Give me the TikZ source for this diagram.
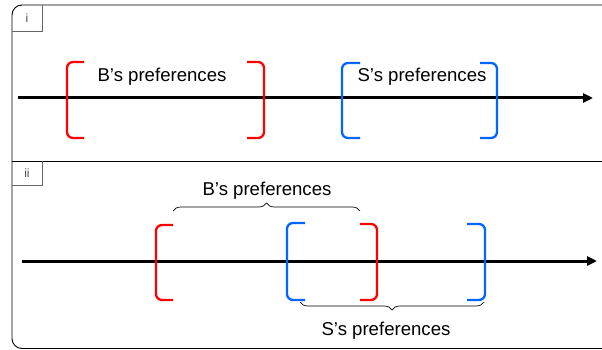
\documentclass[tikz,border=0pt]{standalone}
\usepackage{fontspec}
\setmainfont{Liberation Sans}
\usetikzlibrary{arrows.meta,decorations.pathreplacing}
\definecolor{bred}{RGB}{255,0,0}
\definecolor{bblue}{RGB}{0,102,255}
\definecolor{framegray}{RGB}{100,100,100}
\begin{document}
\begin{tikzpicture}[x=1pt,y=-1pt,
  frame/.style={line width=0.9pt,black},
  tab/.style={line width=0.9pt,framegray},
  tablabel/.style={font=\fontsize{12}{14}\selectfont,text=black!70,inner sep=0pt},
  axis/.style={line width=3pt,-{Triangle[length=10pt,width=9pt]}},
  redbr/.style={line width=2.3pt,bred,rounded corners=6pt},
  bluebr/.style={line width=2.3pt,bblue,rounded corners=6pt},
  pref/.style={font=\fontsize{18.6}{22}\selectfont,inner sep=0pt,anchor=base},
  brace/.style={line width=0.7pt,decorate,decoration={brace,amplitude=8pt}}]
\useasboundingbox (0,0) rectangle (602,350);
% outer frame
\draw[frame,rounded corners=10pt] (612,5) -- (12,5) -- (12,348.5) -- (612,348.5);
\draw[frame] (12,161) -- (612,161);
% tabs
\draw[tab] (42,5) -- (42,31) -- (12,31);
\node[tablabel] (ti) at (27,18.5) {i};
\draw[tab] (42,161) -- (42,185) -- (12,185);
\node[tablabel] (tii) at (27,173.5) {ii};
% panel i
\coordinate (a1s) at (18,98);
\coordinate (a1e) at (593,98);
\draw[axis] (a1s) -- (a1e);
\draw[redbr] (84,62) -- (67,62) -- (67,138) -- (84,138);
\draw[redbr] (247,62) -- (264,62) -- (264,138) -- (247,138);
\draw[bluebr] (360,63) -- (342,63) -- (342,138) -- (360,138);
\draw[bluebr] (480,63) -- (497,63) -- (497,138) -- (480,138);
\node[pref] (bi) at (162,82) {B’s preferences};
\node[pref] (si) at (422,82) {S’s preferences};
% panel ii
\coordinate (a2s) at (22,261);
\coordinate (a2e) at (597,261);
\draw[axis] (a2s) -- (a2e);
\draw[redbr] (173,225) -- (156,225) -- (156,300) -- (173,300);
\draw[redbr] (360,224) -- (377,224) -- (377,300) -- (360,300);
\draw[bluebr] (305,223) -- (287,223) -- (287,300) -- (305,300);
\draw[bluebr] (467,224) -- (485,224) -- (485,300) -- (467,300);
\draw[brace] (173,211) -- (360,211);
\draw[brace,decoration={mirror}] (300,302) -- (484,302);
\node[pref] (bii) at (267,195) {B’s preferences};
\node[pref] (sii) at (386,335.5) {S’s preferences};
\end{tikzpicture}
\end{document}
